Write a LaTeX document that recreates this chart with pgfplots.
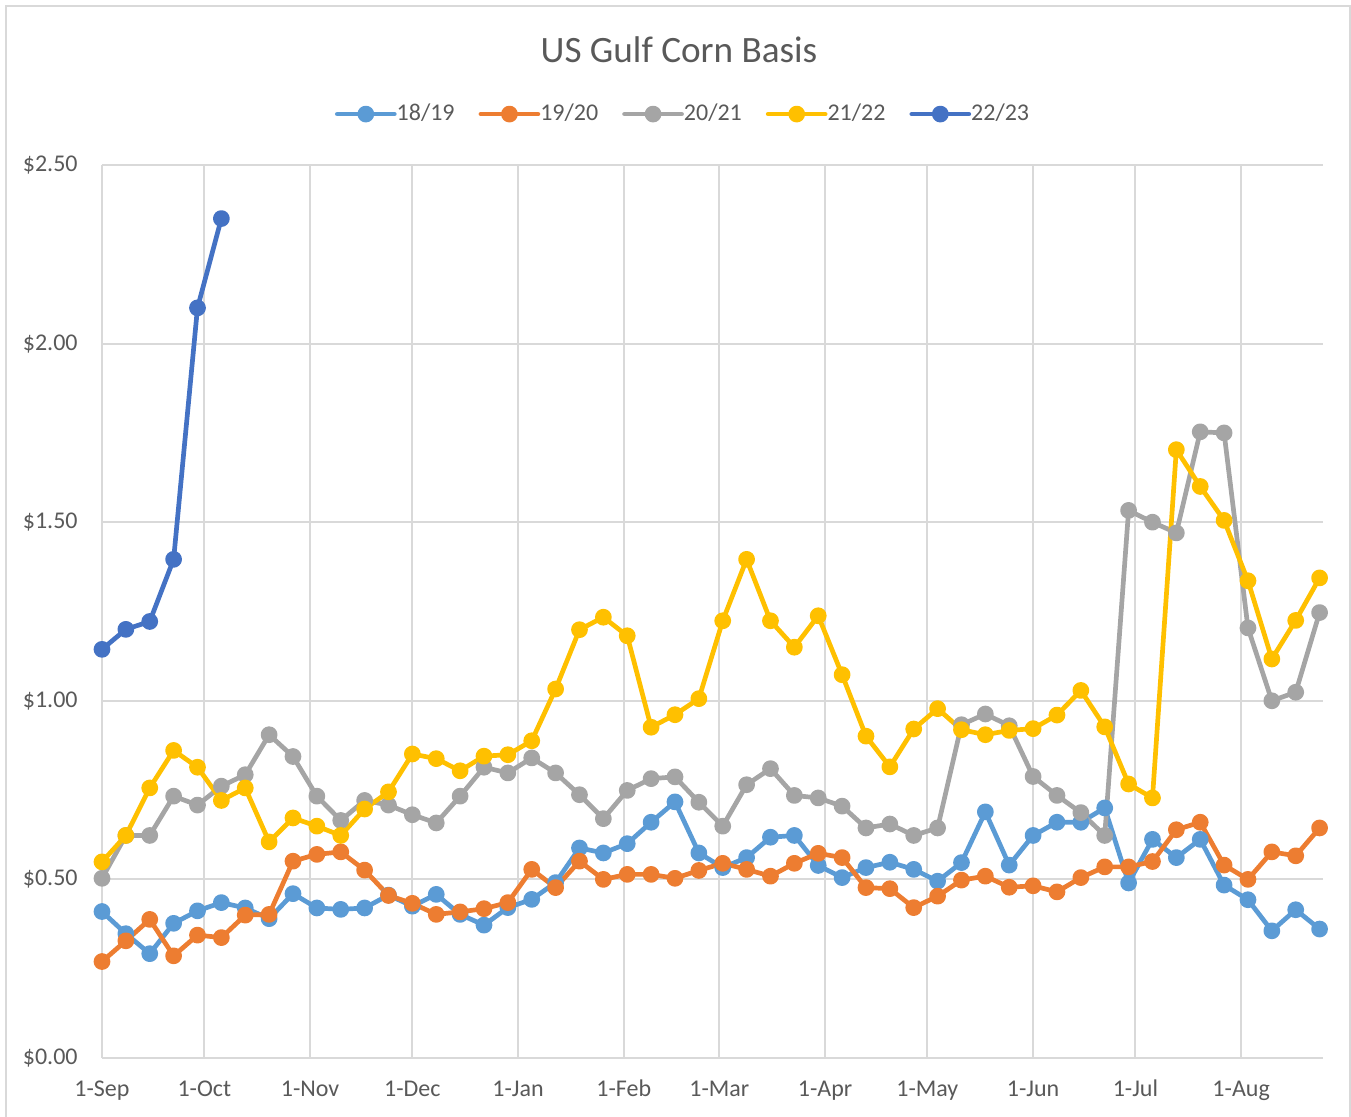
\documentclass[border=0pt]{standalone}
\usepackage{fontspec}
\setmainfont{Carlito}
\usepackage{pgfplots}
\usepackage{pgfplotstable}
\pgfplotsset{compat=1.18}

\definecolor{s1819}{HTML}{5B9BD5}
\definecolor{s1920}{HTML}{ED7D31}
\definecolor{s2021}{HTML}{A5A5A5}
\definecolor{s2122}{HTML}{FFC000}
\definecolor{s2223}{HTML}{4472C4}
\definecolor{gridc}{HTML}{D9D9D9}
\definecolor{txt}{HTML}{595959}

% weekly basis, day = days after 1-Sep
\pgfplotstableread{
day  a      b      c      d
0    0.410  0.270  0.503  0.549
7    0.348  0.328  0.623  0.623
14   0.292  0.388  0.623  0.756
21   0.377  0.286  0.733  0.861
28   0.412  0.344  0.708  0.814
35   0.435  0.337  0.761  0.721
42   0.420  0.400  0.793  0.756
49   0.390  0.402  0.905  0.605
56   0.460  0.551  0.844  0.672
63   0.420  0.570  0.733  0.649
70   0.416  0.577  0.665  0.623
77   0.420  0.526  0.721  0.697
84   0.456  0.455  0.708  0.745
91   0.425  0.433  0.681  0.851
98   0.458  0.402  0.658  0.838
105  0.402  0.409  0.733  0.804
112  0.372  0.418  0.814  0.845
119  0.421  0.435  0.798  0.849
126  0.444  0.528  0.840  0.888
133  0.491  0.477  0.798  1.033
140  0.588  0.551  0.737  1.199
147  0.574  0.500  0.670  1.234
154  0.600  0.514  0.749  1.182
161  0.660  0.514  0.782  0.926
168  0.717  0.503  0.787  0.961
175  0.574  0.525  0.716  1.006
182  0.533  0.545  0.649  1.224
189  0.561  0.528  0.765  1.396
196  0.618  0.509  0.810  1.224
203  0.623  0.545  0.735  1.150
210  0.539  0.573  0.728  1.238
217  0.505  0.561  0.705  1.073
224  0.533  0.477  0.644  0.901
231  0.548  0.474  0.655  0.815
238  0.528  0.421  0.623  0.921
245  0.495  0.453  0.644  0.978
252  0.547  0.498  0.933  0.919
259  0.689  0.509  0.963  0.905
266  0.540  0.478  0.930  0.917
273  0.623  0.482  0.788  0.922
280  0.660  0.465  0.735  0.960
287  0.660  0.505  0.687  1.029
294  0.700  0.535  0.623  0.927
301  0.490  0.535  1.533  0.767
308  0.612  0.550  1.500  0.728
315  0.561  0.639  1.470  1.703
322  0.612  0.660  1.753  1.600
329  0.484  0.540  1.750  1.505
336  0.443  0.500  1.204  1.336
343  0.356  0.577  1.000  1.117
350  0.415  0.566  1.024  1.225
357  0.361  0.644  1.247  1.344
}\basis

\pgfplotstableread{
day  e
0    1.144
7    1.200
14   1.222
21   1.396
28   2.100
35   2.350
}\newcrop

\begin{document}
\begin{tikzpicture}
\useasboundingbox (-51pt,-29.5pt) rectangle (624.5pt,529pt);
\draw[gridc, line width=1pt] (-48pt,-29.5pt) -- (-48pt,526pt) -- (624pt,526pt) -- (624pt,-29.5pt);
\node[text=txt, font=\fontsize{18.6}{22}\selectfont] at (288.5pt,504pt) {US Gulf Corn Basis};
\begin{axis}[
  at={(0pt,0pt)}, anchor=south west,
  scale only axis, width=610.5pt, height=446.5pt,
  xmin=0, xmax=358, ymin=0, ymax=2.5,
  xtick={0,30,61,91,122,153,181,212,242,273,303,334},
  xticklabels={1-Sep,1-Oct,1-Nov,1-Dec,1-Jan,1-Feb,1-Mar,1-Apr,1-May,1-Jun,1-Jul,1-Aug},
  ytick={0,0.5,1,1.5,2,2.5},
  yticklabels={\$0.00,\$0.50,\$1.00,\$1.50,\$2.00,\$2.50},
  grid=major, grid style={gridc, line width=1pt},
  major tick length=0pt,
  separate axis lines,
  x axis line style={gridc, line width=1pt},
  y axis line style={draw=none},
  ticklabel style={font=\fontsize{12}{14}\selectfont, text=txt},
  yticklabel style={anchor=east, inner sep=0pt, xshift=-12pt},
  xticklabel style={anchor=base, inner sep=0pt, yshift=-19.5pt},
  clip=false,
  legend columns=5,
  legend style={at={(0.4767,1.057)}, anchor=center, draw=none, fill=none,
    font=\fontsize{12}{14}\selectfont, text=txt,
    /tikz/every odd column/.append style={column sep=-2pt},
    /tikz/every even column/.append style={column sep=10pt}},
  legend image code/.code={\draw[mark repeat=2, mark phase=2]
    plot coordinates {(0pt,0pt) (14.25pt,0pt) (28.5pt,0pt)};},
  every axis plot/.append style={line width=2.35pt, line join=round, line cap=round,
    mark=*, mark size=3pt, mark options={line width=0.4pt}},
]
\addplot[s1819, mark options={fill=s1819}] table[x=day, y=a] {\basis};
\addlegendentry{18/19}
\addplot[s1920, mark options={fill=s1920}] table[x=day, y=b] {\basis};
\addlegendentry{19/20}
\addplot[s2021, mark options={fill=s2021}] table[x=day, y=c] {\basis};
\addlegendentry{20/21}
\addplot[s2122, mark options={fill=s2122}] table[x=day, y=d] {\basis};
\addlegendentry{21/22}
\addplot[s2223, mark options={fill=s2223}] table[x=day, y=e] {\newcrop};
\addlegendentry{22/23}
\end{axis}
\end{tikzpicture}
\end{document}
